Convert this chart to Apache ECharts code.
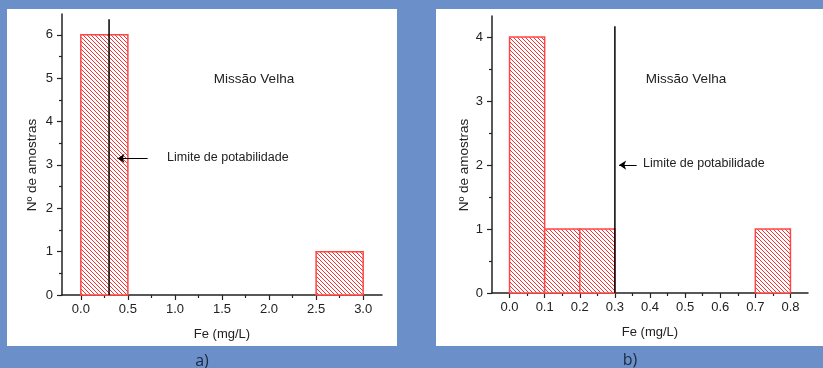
<!DOCTYPE html>
<html>
<head>
<meta charset="utf-8">
<script src="https://cdn.jsdelivr.net/npm/echarts@6/dist/echarts.min.js"></script>
<style>
html,body{margin:0;padding:0;background:#6b90c9;}
#chart{width:823px;height:368px;}
</style>
</head>
<body>
<div id="chart"></div>
<script>
// ---------- data ----------
// Panel a)
const binStartA = [0.0, 2.5];
const binEndA   = [0.5, 3.0];
const countsA   = [6, 1];
const xTicksA   = [0, 0.5, 1.0, 1.5, 2.0, 2.5, 3.0];
const xMinorA   = [0.25, 0.75, 1.25, 1.75, 2.25, 2.75];
const yTicksA   = [0, 1, 2, 3, 4, 5, 6];
const yMinorA   = [0.5, 1.5, 2.5, 3.5, 4.5, 5.5];
const limitA    = 0.3;
const limitTopA = 6.36;
const arrowA    = [[0.71, 3.15], [0.39, 3.15]];

// Panel b)
const binStartB = [0.0, 0.1, 0.2, 0.7];
const binEndB   = [0.1, 0.2, 0.3, 0.8];
const countsB   = [4, 1, 1, 1];
const xTicksB   = [0, 0.1, 0.2, 0.3, 0.4, 0.5, 0.6, 0.7, 0.8];
const xMinorB   = [0.05, 0.15, 0.25, 0.35, 0.45, 0.55, 0.65, 0.75];
const yTicksB   = [0, 1, 2, 3, 4];
const yMinorB   = [0.5, 1.5, 2.5, 3.5];
const limitB    = 0.3;
const limitTopB = 4.17;
const arrowB    = [[0.362, 2.0], [0.312, 2.0]];

const titleText = 'Missão Velha';
const limitText = 'Limite de potabilidade';
const xName = 'Fe (mg/L)';
const yName = 'Nº de amostras';

// ---------- styling ----------
const FONT = '"Liberation Sans", Arial, sans-serif';
const AX = '#222';
const HATCH_STEP = 4;

function renderBar(params, api) {
  const s = api.value(0), e = api.value(1), c = api.value(2);
  const p0 = api.coord([s, c]);
  const p1 = api.coord([e, 0]);
  const x0 = p0[0], y0 = p0[1], x1 = p1[0], y1 = p1[1];
  const children = [{
    type: 'rect',
    shape: { x: x0, y: y0, width: x1 - x0, height: y1 - y0 },
    style: { fill: '#fff', stroke: null }
  }];
  // hatch lines "\" : y = x + k
  const kStart = Math.floor((y0 - x1) / HATCH_STEP) * HATCH_STEP;
  for (let k = kStart; k <= y1 - x0; k += HATCH_STEP) {
    const xa = Math.max(x0, y0 - k), xb = Math.min(x1, y1 - k);
    if (xb - xa <= 0.3) continue;
    children.push({
      type: 'line',
      shape: { x1: xa, y1: xa + k, x2: xb, y2: xb + k },
      style: { stroke: 'rgba(238,30,30,0.9)', lineWidth: 1 }
    });
  }
  children.push({
    type: 'rect',
    shape: { x: x0, y: y0, width: x1 - x0, height: y1 - y0 },
    style: { fill: null, stroke: '#ff4646', lineWidth: 1.5 }
  });
  return { type: 'group', children: children };
}

function xAxisMain(gi, min, max, ticks) {
  return {
    type: 'value', gridIndex: gi, min: min, max: max,
    name: xName, nameLocation: 'middle', nameGap: 33,
    nameTextStyle: { fontFamily: FONT, fontSize: 13, color: AX },
    axisLine: { show: true, onZero: false, lineStyle: { color: AX, width: 1.5 } },
    axisTick: { show: true, customValues: ticks, length: 5, lineStyle: { color: AX, width: 1.2 } },
    axisLabel: { customValues: ticks, margin: 8, fontFamily: FONT, fontSize: 13, color: AX,
                 formatter: v => v.toFixed(1) },
    splitLine: { show: false }
  };
}
function xAxisMinor(gi, min, max, ticks) {
  return {
    type: 'value', gridIndex: gi, min: min, max: max, position: 'bottom',
    axisLine: { show: false, onZero: false },
    axisTick: { show: true, customValues: ticks, length: 3, lineStyle: { color: AX, width: 1.2 } },
    axisLabel: { show: false, customValues: ticks },
    splitLine: { show: false }
  };
}
function yAxisMain(gi, max, ticks) {
  return {
    type: 'value', gridIndex: gi, min: 0, max: max,
    axisLine: { show: true, onZero: false, lineStyle: { color: AX, width: 1.5 } },
    axisTick: { show: true, customValues: ticks, length: 5, lineStyle: { color: AX, width: 1.2 } },
    axisLabel: { customValues: ticks, margin: 9, fontFamily: FONT, fontSize: 13, color: AX,
                 formatter: v => String(Math.round(v)) },
    splitLine: { show: false }
  };
}
function yAxisMinor(gi, max, ticks) {
  return {
    type: 'value', gridIndex: gi, min: 0, max: max, position: 'left',
    axisLine: { show: false, onZero: false },
    axisTick: { show: true, customValues: ticks, length: 3, lineStyle: { color: AX, width: 1.2 } },
    axisLabel: { show: false, customValues: ticks },
    splitLine: { show: false }
  };
}

function histData(st, en, ct) { return st.map((s, i) => [s, en[i], ct[i]]); }

function limitSeries(xi, yi, x, top, arrow) {
  return {
    type: 'line', xAxisIndex: xi, yAxisIndex: yi, z: 5,
    data: [[x, 0], [x, top]], symbol: 'none', silent: true,
    lineStyle: { color: '#000', width: 1.5 },
    markLine: {
      silent: true, symbol: ['none', 'arrow'], symbolSize: 7,
      label: { show: false },
      lineStyle: { color: '#000', width: 1, type: 'solid' },
      data: [[{ coord: arrow[0] }, { coord: arrow[1] }]]
    }
  };
}

function txt(x, y, text, size, align, extra) {
  return Object.assign({
    type: 'text', x: x, y: y, z: 50,
    style: { text: text, fontFamily: FONT, fontSize: size, fill: AX,
             align: align, verticalAlign: 'middle' }
  }, extra || {});
}

const chart = echarts.init(document.getElementById('chart'), null, { renderer: 'canvas' });
chart.setOption({
  animation: false,
  backgroundColor: '#6b90c9',
  grid: [
    { left: 62, top: 14, width: 320, height: 281 },
    { left: 492, top: 16, width: 316, height: 277 }
  ],
  xAxis: [
    xAxisMain(0, -0.2, 3.2, xTicksA),
    xAxisMinor(0, -0.2, 3.2, xMinorA),
    xAxisMain(1, -0.05, 0.85, xTicksB),
    xAxisMinor(1, -0.05, 0.85, xMinorB)
  ],
  yAxis: [
    yAxisMain(0, 6.48, yTicksA),
    yAxisMinor(0, 6.48, yMinorA),
    yAxisMain(1, 4.33, yTicksB),
    yAxisMinor(1, 4.33, yMinorB)
  ],
  graphic: [
    { type: 'rect', z: -100, shape: { x: 7, y: 9, width: 390, height: 337 }, style: { fill: '#fff' } },
    { type: 'rect', z: -100, shape: { x: 436, y: 9, width: 387, height: 337 }, style: { fill: '#fff' } },
    txt(254, 79, titleText, 13.5, 'center'),
    txt(167, 158, limitText, 12.5, 'left'),
    txt(686, 79, titleText, 13.5, 'center'),
    txt(643, 164, limitText, 12.5, 'left'),
    txt(32, 165, yName, 13.5, 'center', { rotation: Math.PI / 2 }),
    txt(464, 165, yName, 13.5, 'center', { rotation: Math.PI / 2 }),
    { type: 'text', x: 202, y: 361, z: 50,
      style: { text: 'a)', fontFamily: '"Open Sans", sans-serif', fontSize: 16, fill: '#1c2740', align: 'center', verticalAlign: 'middle' } },
    { type: 'text', x: 630, y: 360, z: 50,
      style: { text: 'b)', fontFamily: '"Open Sans", sans-serif', fontSize: 16, fill: '#1c2740', align: 'center', verticalAlign: 'middle' } }
  ],
  series: [
    { type: 'custom', xAxisIndex: 0, yAxisIndex: 0, renderItem: renderBar, z: 3,
      encode: { x: [0, 1], y: 2 }, data: histData(binStartA, binEndA, countsA) },
    limitSeries(0, 0, limitA, limitTopA, arrowA),
    { type: 'custom', xAxisIndex: 2, yAxisIndex: 2, renderItem: renderBar, z: 3,
      encode: { x: [0, 1], y: 2 }, data: histData(binStartB, binEndB, countsB) },
    limitSeries(2, 2, limitB, limitTopB, arrowB)
  ]
});
</script>
</body>
</html>
